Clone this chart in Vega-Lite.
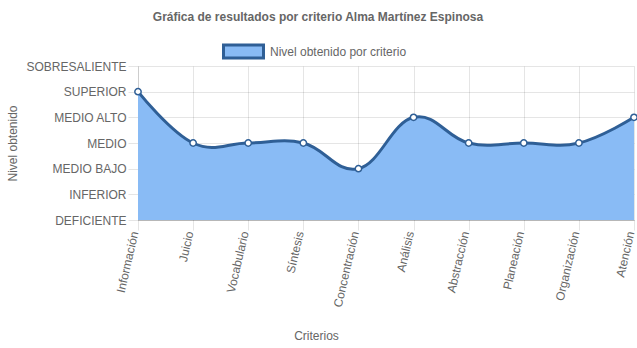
{
  "$schema": "https://vega.github.io/schema/vega-lite/v6.json",
  "width": 496,
  "height": 154,
  "autosize": "none",
  "padding": {"left": 138, "top": 66, "right": 3, "bottom": 128},
  "background": "white",
  "config": {
    "font": "Liberation Sans",
    "view": {"stroke": null},
    "axis": {"zindex": 1, "labelFont": "Liberation Sans", "titleFont": "Liberation Sans", "labelColor": "#666666", "titleColor": "#666666", "labelFontSize": 12, "titleFontSize": 12, "titleFontWeight": "normal", "gridColor": "#000000", "gridOpacity": 0.1, "tickColor": "#000000", "tickOpacity": 0.1, "domainColor": "#000000", "domainOpacity": 0.1}
  },
  "title": {
    "text": "Gráfica de resultados por criterio Alma Martínez Espinosa",
    "font": "Liberation Sans",
    "fontSize": 12,
    "fontWeight": "bold",
    "color": "#666666",
    "anchor": "middle",
    "frame": "group",
    "dx": -68,
    "offset": 6
  },
  "data": {
    "values": [
      {"criterio": "Información", "nivel": 5},
      {"criterio": "Juicio", "nivel": 3},
      {"criterio": "Vocabulario", "nivel": 3},
      {"criterio": "Síntesis", "nivel": 3},
      {"criterio": "Concentración", "nivel": 2},
      {"criterio": "Análisis", "nivel": 4},
      {"criterio": "Abstracción", "nivel": 3},
      {"criterio": "Planeación", "nivel": 3},
      {"criterio": "Organización", "nivel": 3},
      {"criterio": "Atención", "nivel": 4}
    ]
  },
  "encoding": {
    "x": {
      "field": "criterio",
      "type": "ordinal",
      "sort": null,
      "scale": {"type": "point", "padding": 0},
      "axis": {"title": "Criterios", "labelAngle": -77, "labelAlign": "right", "labelBaseline": "alphabetic", "labelDx": 3, "tickSize": 10, "labelPadding": 2, "grid": true, "titleX": 178, "titleY": 115, "titleBaseline": "middle", "titleAnchor": null, "domainOpacity": 0.2}
    },
    "y": {
      "field": "nivel",
      "type": "quantitative",
      "scale": {"domain": [0, 6], "nice": false},
      "axis": {"title": "Nivel obtenido", "values": [0, 1, 2, 3, 4, 5, 6], "labelExpr": "['DEFICIENTE','INFERIOR','MEDIO BAJO','MEDIO','MEDIO ALTO','SUPERIOR','SOBRESALIENTE'][datum.value]", "tickSize": 10, "labelPadding": 2, "grid": true, "titleX": -126, "titleY": 77, "titleAngle": -90, "titleBaseline": "middle", "titleAnchor": null}
    }
  },
  "layer": [
    {
      "mark": {"type": "area", "interpolate": "cardinal", "tension": -0.2},
      "encoding": {
        "color": {
          "datum": "Nivel obtenido por criterio",
          "type": "nominal",
          "scale": {"range": ["#89bbf5"]},
          "legend": {
            "title": null,
            "orient": "none",
            "legendX": 84,
            "legendY": -36,
            "padding": 0,
            "labelFont": "Liberation Sans",
            "labelFontSize": 12,
            "labelColor": "#666666",
            "labelOffset": 5,
            "symbolType": "M-1,-0.32H1V0.32H-1Z",
            "symbolSize": 1600,
            "symbolStrokeColor": "#2f5f96",
            "symbolStrokeWidth": 3,
            "symbolOpacity": 1
          }
        }
      }
    },
    {
      "mark": {"type": "line", "interpolate": "cardinal", "tension": -0.2, "color": "#2f5f96", "strokeWidth": 3},
      "encoding": {}
    },
    {
      "mark": {"type": "point", "filled": true, "fill": "white", "stroke": "#2f5f96", "strokeWidth": 1.5, "size": 40, "opacity": 1},
      "encoding": {}
    }
  ]
}
